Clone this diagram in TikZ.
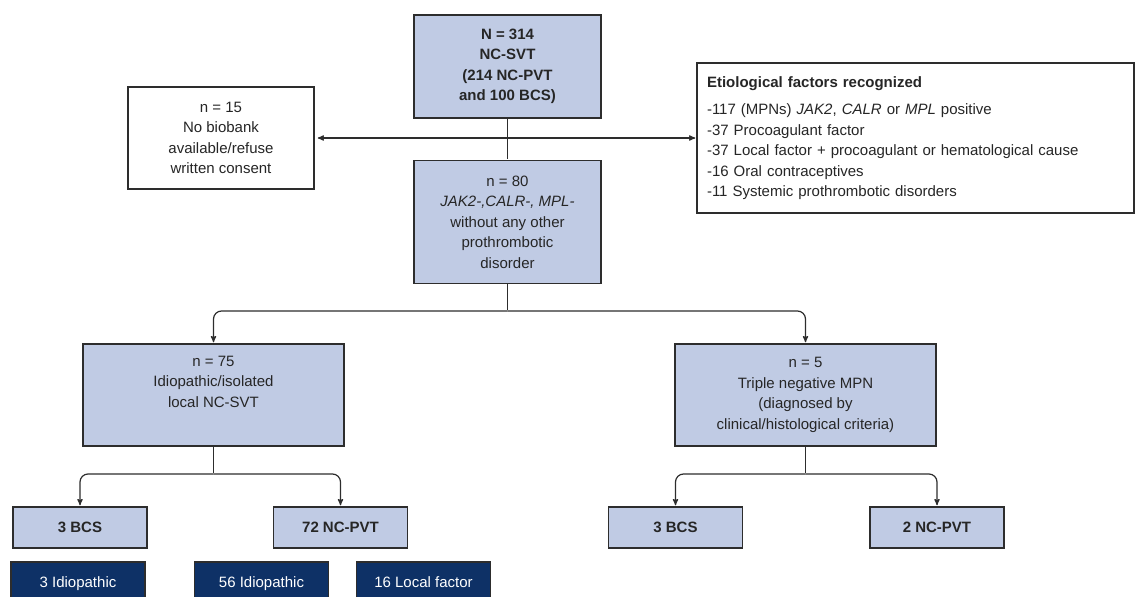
\documentclass[tikz,border=0pt]{standalone}
\usepackage{fontspec}
\setmainfont{Liberation Sans}
\usetikzlibrary{arrows,positioning}
\definecolor{boxblue}{RGB}{192,203,228}
\definecolor{navy}{RGB}{14,49,102}
\definecolor{edgegray}{RGB}{45,45,45}

\begin{document}
\begin{tikzpicture}[x=1pt,y=-1pt,>=stealth',shorten >=1pt,
		every node/.style={font=\fontsize{15}{20.5}\selectfont,text=black!85},
		box/.style 2 args={draw=edgegray,line width=1.5pt,fill=boxblue,align=center,inner sep=0pt,minimum width=#1,minimum height=#2},
		leaf/.style={box={134pt}{41pt},font=\fontsize{15}{20.5}\selectfont\bfseries},
		subleaf/.style={draw=edgegray,line width=1.5pt,fill=navy,text=white,inner sep=0pt,minimum width=134pt,minimum height=42pt,text height=11pt,text depth=3pt},
		link/.style={draw=edgegray,line width=1.2pt}]
	\useasboundingbox (0,0) rectangle (1136,597);
	% cohort and exclusions
	\node[box={187pt}{103pt},font=\fontsize{15}{20.5}\selectfont\bfseries] (all) at (507.5,66.5) {N = 314\\NC-SVT\\(214 NC-PVT\\and 100 BCS)};
	\node[box={187pt}{123pt}] [below=41pt of all] (neg) {n = 80\\\textit{JAK2-,CALR-, MPL-}\\without any other\\prothrombotic\\disorder};
	\node[box={186pt}{102pt},fill=white] (nobio) at (221,138) {n = 15\\No biobank\\available/refuse\\written consent};
	\node[draw=edgegray,line width=1.5pt,fill=white,align=left,text width=417pt,inner xsep=10pt,inner ysep=0pt,minimum height=150pt] (etio) at (915.5,138)
		{\textbf{Etiological factors recognized}\\[7pt]
		-117 (MPNs) \textit{JAK2}, \textit{CALR} or \textit{MPL} positive\\
		-37 Procoagulant factor\\
		-37 Local factor + procoagulant or hematological cause\\
		-16 Oral contraceptives\\
		-11 Systemic prothrombotic disorders};
	% second level
	\node[box={261pt}{102pt}] (idio) at (213.5,395) {n = 75\\Idiopathic/isolated\\local NC-SVT\\\strut};
	\node[box={261pt}{102pt}] (tn) at (805.5,395) {n = 5\\Triple negative MPN\\(diagnosed by\\clinical/histological criteria)};
	% leaves
	\node[leaf] (bcsA) at (80,527.5) {3 BCS};
	\node[leaf] (pvtA) at (340.5,527.5) {72 NC-PVT};
	\node[leaf] (bcsB) at (675.5,527.5) {3 BCS};
	\node[leaf] (pvtB) at (937,527.5) {2 NC-PVT};
	\node[subleaf] (idA) at (78,583) {3 Idiopathic};
	\node[subleaf] (idB) at (261.5,583) {56 Idiopathic};
	\node[subleaf] (locB) at (423.5,583) {16 Local factor};
	% connectors
	\coordinate (forkTop) at (507.5,311);
	\coordinate (forkA) at (213.5,474);
	\coordinate (forkB) at (805.5,474);
	\draw[link] (all) -- (neg);
	\draw[link,->,shorten >=3pt] (all.south |- nobio.east) -- (nobio.east);
	\draw[link,->] (all.south |- etio.west) -- (etio.west);
	\draw[link] (neg.south) -- (forkTop);
	\draw[link] (idio.south) -- (forkA);
	\draw[link] (tn.south) -- (forkB);
	\foreach \fork/\child in {forkTop/idio,forkTop/tn,forkA/bcsA,forkA/pvtA,forkB/bcsB,forkB/pvtB}
		\draw[link,->,rounded corners=8pt] (\fork) -| (\child.north);
\end{tikzpicture}
\end{document}
